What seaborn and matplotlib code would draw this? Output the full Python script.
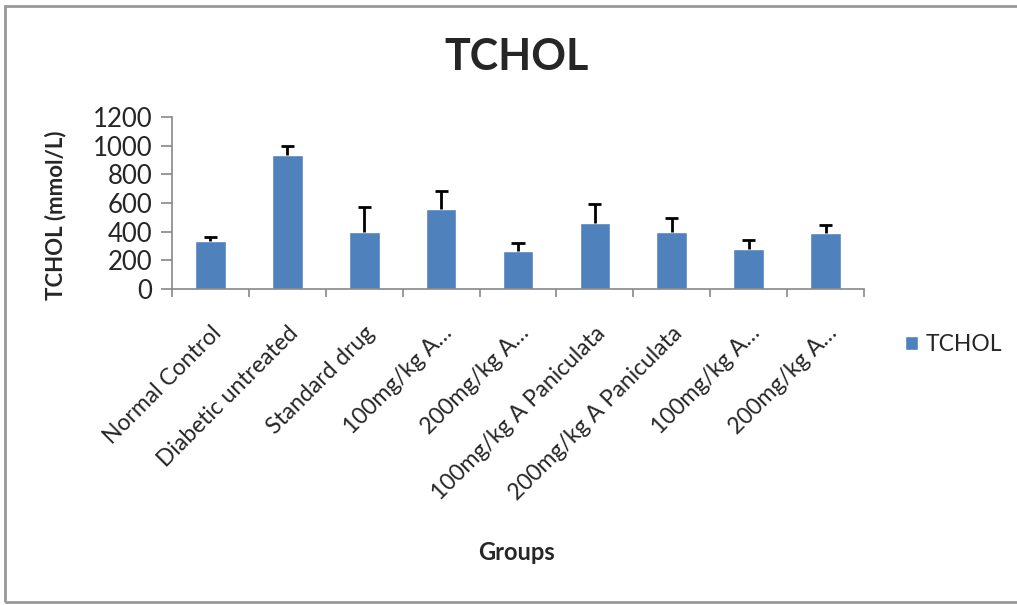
import matplotlib.pyplot as plt
import matplotlib.patches as mpatches
import seaborn as sns
import numpy as np

groups = [
    "Normal Control",
    "Diabetic untreated",
    "Standard drug",
    "100mg/kg A\u2026",
    "200mg/kg A\u2026",
    "100mg/kg A Paniculata",
    "200mg/kg A Paniculata",
    "100mg/kg A\u2026",
    "200mg/kg A\u2026",
]
tchol = [334, 938, 399, 555, 267, 464, 399, 278, 388]
tchol_sd = [30, 57, 170, 132, 53, 126, 95, 63, 57]

sns.set_style("white")
plt.rcParams['font.family'] = ['Lato', 'DejaVu Sans']

fig = plt.figure(figsize=(10.17, 6.05), dpi=100)
ax = fig.add_axes([0.169, 0.5223, 0.6807, 0.2843])

pos = np.arange(len(groups))
sns.barplot(x=pos, y=tchol, color="#4F81BD", width=0.4, label="TCHOL",
            saturation=1, ax=ax, native_scale=True)

# upper error bars only
tops = np.array(tchol) + np.array(tchol_sd)
ax.vlines(pos, tchol, tops, color="black", linewidth=2.0, zorder=3)
ax.hlines(tops, pos - 0.085, pos + 0.085, color="black", linewidth=2.0, zorder=3)

ax.set_xlim(-0.5, len(groups) - 0.5)
ax.set_ylim(0, 1200)
ax.set_yticks(range(0, 1201, 200))
ax.set_xticks(pos)
ax.set_xticklabels(groups, rotation=45, ha="right", rotation_mode="anchor",
                   fontsize=16.5)
ax.set_xticks(np.arange(-0.5, len(groups), 1), minor=True)
ax.tick_params(axis="x", which="major", length=0, pad=24)
ax.tick_params(axis="x", which="minor", length=6, color="#888888", width=1.2,
               direction="out", bottom=True)
ax.tick_params(axis="y", length=8, color="#888888", width=1.2, direction="out",
               left=True, labelsize=18.5, pad=6)

for s in ["top", "right"]:
    ax.spines[s].set_visible(False)
for s in ["left", "bottom"]:
    ax.spines[s].set_color("#888888")
    ax.spines[s].set_linewidth(1.2)

ax.set_ylabel("TCHOL (mmol/L)", fontsize=16, fontweight="bold")
ax.yaxis.set_label_coords(-0.152, 0.43)
ax.set_xlabel("")
fig.text(0.508, 0.086, "Groups", fontsize=17, fontweight="bold",
         ha="center", va="center")
fig.text(0.508, 0.905, "TCHOL", fontsize=31, fontweight="bold",
         ha="center", va="center")

ax.legend(loc="center left", bbox_to_anchor=(0.87, 0.43),
          bbox_transform=fig.transFigure, frameon=False, fontsize=16.5,
          handlelength=0.55, handleheight=0.55, handletextpad=0.35)

fig.patches.append(mpatches.Rectangle((0.005, 0.005), 1.2, 0.985,
                                      transform=fig.transFigure, fill=False,
                                      edgecolor="#999999", linewidth=2))

fig.savefig("out.png", dpi=100)
